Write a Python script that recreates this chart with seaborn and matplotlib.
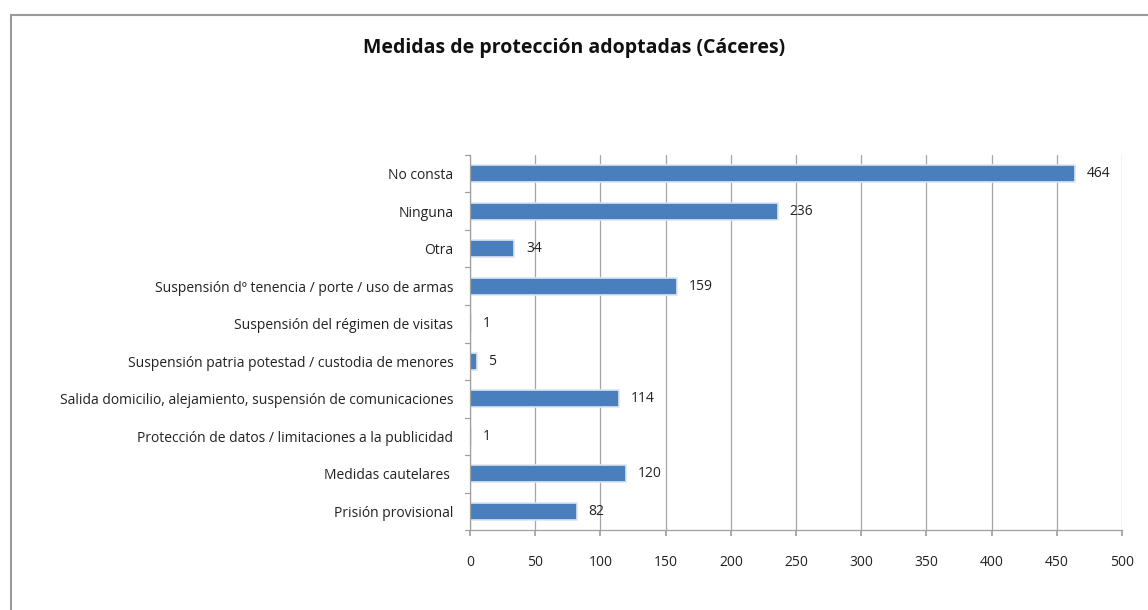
import matplotlib
matplotlib.use("Agg")
import matplotlib.pyplot as plt
import seaborn as sns
import pandas as pd
from matplotlib.lines import Line2D

medidas = [
    "No consta",
    "Ninguna",
    "Otra",
    "Suspensión dº tenencia / porte / uso de armas",
    "Suspensión del régimen de visitas",
    "Suspensión patria potestad / custodia de menores",
    "Salida domicilio, alejamiento, suspensión de comunicaciones",
    "Protección de datos / limitaciones a la publicidad",
    "Medidas cautelares ",
    "Prisión provisional",
]
casos = [464, 236, 34, 159, 1, 5, 114, 1, 120, 82]
x_ticks = list(range(0, 501, 50))

df = pd.DataFrame({"medida": medidas, "casos": casos})

sns.set_theme(style="white")
plt.rcParams["font.family"] = ["Open Sans", "DejaVu Sans"]

fig = plt.figure(figsize=(11.48, 6.10), dpi=100)
ax = fig.add_axes([0.4094, 0.131, 0.568, 0.615])

sns.barplot(data=df, y="medida", x="casos", orient="h", color="#4a7fbd",
            width=0.46, edgecolor="#dce6f2", linewidth=1.2, saturation=1, ax=ax)

for i, v in enumerate(casos):
    ax.text(v + 9, i, str(v), va="center", ha="left", fontsize=10, color="#222222")

ax.set_xlim(0, 500)
ax.set_xticks(x_ticks)
ax.set_ylim(len(medidas) - 0.5, -0.5)
ax.set_xlabel("")
ax.set_ylabel("")
ax.tick_params(axis="y", length=0, labelsize=10, pad=12, colors="#222222")
ax.tick_params(axis="x", length=4, labelsize=10, pad=14, colors="#222222",
               direction="out", bottom=True, color="#a0a0a0")
ax.xaxis.grid(True, color="#a6a6a6", linewidth=0.9)
ax.set_axisbelow(True)
for side in ["top", "right"]:
    ax.spines[side].set_visible(False)
for side in ["left", "bottom"]:
    ax.spines[side].set_color("#a0a0a0")
    ax.spines[side].set_linewidth(0.9)

# small tick marks on the category boundaries (left side)
for b in [i - 0.5 for i in range(len(medidas) + 1)]:
    ax.plot([-0.008, 0], [b, b], transform=ax.get_yaxis_transform(),
            color="#a0a0a0", linewidth=0.9, clip_on=False)

fig.text(0.5, 0.921, "Medidas de protección adoptadas (Cáceres)", ha="center",
         va="center", fontsize=14, fontweight="bold", color="#111111")

# chart frame
fig.add_artist(Line2D([11 / 1148, 1.0], [1 - 15 / 610, 1 - 15 / 610],
                      color="#9a9a9a", linewidth=1.5))
fig.add_artist(Line2D([11 / 1148, 11 / 1148], [0.0, 1 - 15 / 610],
                      color="#9a9a9a", linewidth=1.5))

fig.savefig("out.png", dpi=100)
